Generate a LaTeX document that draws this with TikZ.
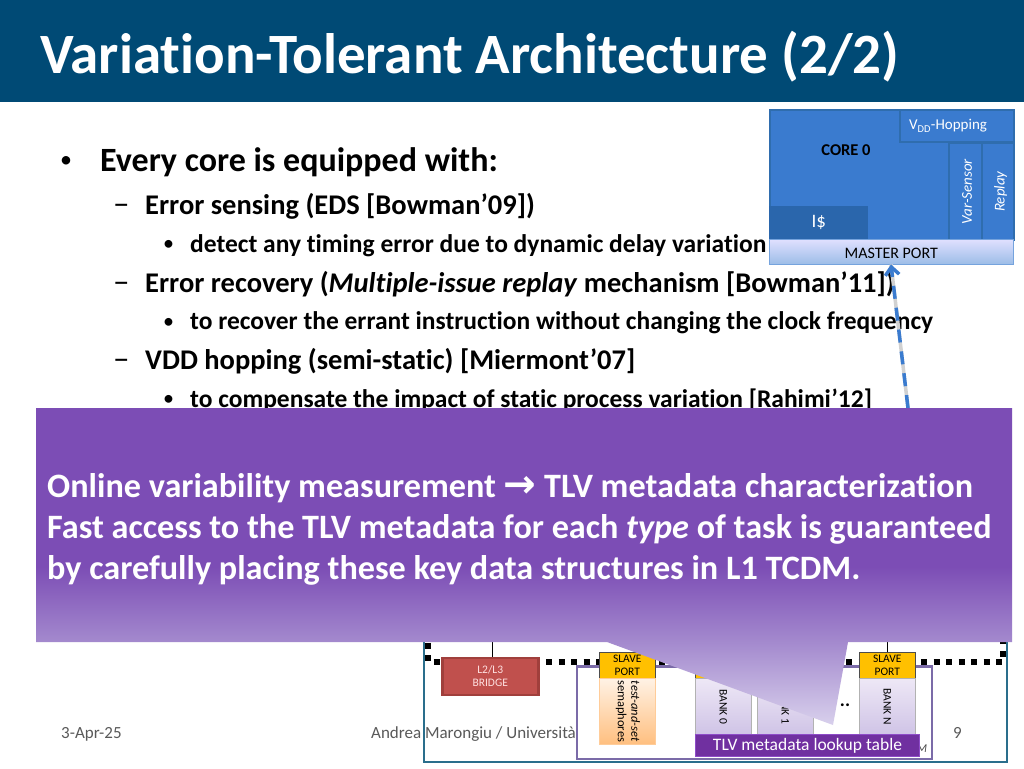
\documentclass[tikz,border=0pt]{standalone}
\usepackage{fontspec}
\setmainfont[Ligatures=CommonOff]{Carlito}
\newfontfamily\arrowfont{DejaVu Sans}
\usetikzlibrary{arrows.meta}
\definecolor{titlebar}{HTML}{004A75}
\definecolor{corefill}{HTML}{3A7BCF}
\definecolor{coreline}{HTML}{2F6DAE}
\definecolor{cachefill}{HTML}{2A66AC}
\definecolor{calloutfill}{HTML}{7C4DB5}
\definecolor{calloutmid}{HTML}{A48ACE}
\definecolor{calloutfade}{HTML}{D8D0EC}
\definecolor{footgrey}{HTML}{595959}
\definecolor{portfill}{HTML}{FFC000}
\definecolor{bridgefill}{HTML}{C0504D}
\definecolor{bridgeline}{HTML}{A03F3C}
\definecolor{framefill}{HTML}{7B6BA8}
\definecolor{outerline}{HTML}{2A6E8C}
\definecolor{bankbar}{HTML}{EEE8F6}
\definecolor{banklow}{HTML}{CFC3E6}
\definecolor{lookupfill}{HTML}{7030A0}
\definecolor{lookupline}{HTML}{8E4CC8}
\pgfdeclareverticalshading{calloutshade}{100bp}{color(0bp)=(calloutfade); color(25bp)=(calloutfade); color(38bp)=(calloutmid); color(50bp)=(calloutfill); color(100bp)=(calloutfill)}
\tikzset{
  lvlone/.style={anchor=base west,inner sep=0pt,font=\bfseries\fontsize{34}{38}\selectfont},
  lvltwo/.style={anchor=base west,inner sep=0pt,font=\bfseries\fontsize{28.5}{32}\selectfont},
  lvlthree/.style={anchor=base west,inner sep=0pt,font=\bfseries\fontsize{25.5}{28}\selectfont},
  bulone/.style={anchor=base west,inner sep=0pt,font=\fontsize{24}{24}\selectfont},
  bulthree/.style={anchor=base west,inner sep=0pt,font=\fontsize{22}{22}\selectfont},
  dashmark/.style={anchor=base west,inner sep=0pt,font=\fontsize{33}{33}\selectfont},
  callouttext/.style={anchor=base west,inner sep=0pt,text=white,font=\bfseries\fontsize{34.2}{38}\selectfont},
  foot/.style={anchor=base west,inner sep=0pt,text=footgrey,font=\fontsize{17}{19}\selectfont},
  corepart/.style={draw=coreline,line width=2pt,fill=corefill,text=white,inner sep=0pt},
  slaveport/.style={draw=black!70,fill=portfill,minimum width=56pt,minimum height=26pt,inner sep=0pt,align=center,font=\fontsize{11.5}{13}\selectfont},
  bankbox/.style={draw=black!30,top color=bankbar,bottom color=banklow,minimum width=56pt,minimum height=57pt,inner sep=0pt,font=\fontsize{11.5}{13}\selectfont},
}
\begin{document}
\begin{tikzpicture}[x=1pt,y=-1pt]
\useasboundingbox (0,0) rectangle (1024,768);
\fill[white] (0,0) rectangle (1024,768);
% Title
\fill[titlebar] (0,0) rectangle (1024,102);
\node[anchor=base west,text=white,font=\bfseries\fontsize{57}{60}\selectfont,inner sep=0pt] (title) at (40,73) {Variation-Tolerant Architecture (2/2)};
% Bullets
\node[bulone] (markone) at (60,167) {•};
\node[lvlone] (eqp) at (100,171) {Every core is equipped with:};
\node[dashmark] (dashone) at (113,214) {–};
\node[lvltwo] (sense) at (145,214) {Error sensing (EDS [Bowman’09])};
\node[bulthree] (marktwo) at (163,250) {•};
\node[lvlthree] (detect) at (190,252) {detect any timing error due to dynamic delay variation};
\node[dashmark] (dashtwo) at (113,292) {–};
\node[lvltwo] (recover) at (145,292) {Error recovery (\textit{Multiple-issue replay} mechanism [Bowman’11])};
\node[bulthree] (markthree) at (163,328) {•};
\node[lvlthree] (errant) at (190,329) {to recover the errant instruction without changing the clock frequency};
\node[dashmark] (dashthree) at (113,369) {–};
\node[lvltwo] (hopping) at (145,369) {VDD hopping (semi-static) [Miermont’07]};
\node[bulthree] (markfour) at (163,405) {•};
\node[lvlthree] (static) at (190,407) {to compensate the impact of static process variation [Rahimi’12]};
% Core
\node[corepart,minimum width=244pt,minimum height=130pt,anchor=north west] (core) at (769,109) {};
\node[anchor=center,font=\bfseries\fontsize{16.5}{19}\selectfont] (corename) at (846,150) {CORE 0};
\node[corepart,minimum width=114pt,minimum height=32pt,anchor=north west,font=\fontsize{15}{18}\selectfont] (vddbox) at (899,109) {\hspace*{-18pt}V\textsubscript{DD}-Hopping};
\node[corepart,minimum width=33pt,minimum height=97pt,anchor=north west] (varbox) at (948,142) {\hspace*{3pt}\rotatebox{90}{\fontsize{15}{18}\selectfont\textit{Var-Sensor}}};
\node[corepart,minimum width=32pt,minimum height=97pt,anchor=north west] (replaybox) at (981,142) {\hspace*{5pt}\rotatebox{90}{\fontsize{15}{18}\selectfont\textit{Replay}}};
\node[fill=cachefill,text=white,minimum width=99pt,minimum height=33pt,anchor=north west,inner sep=0pt,font=\fontsize{19}{22}\selectfont] (icache) at (769,205.5) {I\$};
\node[draw=corefill!70,top color=blue!12!white,bottom color=corefill!50!white,minimum width=244pt,minimum height=25pt,anchor=north west,inner sep=0pt,font=\fontsize{16}{18}\selectfont] (master) at (769,239) {\raisebox{-7pt}[0pt][0pt]{MASTER PORT}};
% Link
\coordinate (linkfoot) at (908,408);
\draw[line width=3.5pt,black!18] (linkfoot) -- (master.south -| 891,264);
\draw[line width=3.5pt,corefill,dash pattern=on 13pt off 9pt,-{Straight Barb[length=8pt,width=14pt]}] (linkfoot) -- (master.south -| 891,264);
% Cluster
\draw[draw=outerline,line width=1.5pt] (424,630) rectangle (1007,762);
\draw[line width=5.5pt,dash pattern=on 6pt off 6.5pt] (428,630) -- (428,662) -- (1003,662) -- (1003,630);
\node[draw=bridgeline,line width=2.5pt,fill=bridgefill,text=white!88!red,minimum width=96pt,minimum height=37pt,anchor=north west,inner sep=0pt,align=center,font=\fontsize{11.5}{13}\selectfont] (bridge) at (441,656.5) {L2/L3\\BRIDGE};
\coordinate (bridgeup) at (492,630);
\draw (bridge.north -| bridgeup) -- (bridgeup);
% Footer
\node[foot] (date) at (61,738) {3-Apr-25};
\node[foot] (speaker) at (371,738) {Andrea Marongiu / Università};
\node[foot] (pagenum) at (953,738) {9};
% L1
\draw[draw=framefill,line width=2.5pt,fill=white] (577,666.5) rectangle (932,759);
\node[slaveport,anchor=north west] (semport) at (599,652) {SLAVE\\PORT};
\node[draw=orange!40,top color=orange!10,bottom color=orange!50,minimum width=56pt,minimum height=66pt,inner sep=0pt,anchor=north west,font=\fontsize{12.5}{13.5}\selectfont] (sembox) at (599,678) {\rotatebox{-90}{\begin{tabular}{@{}c@{}}\textit{test-and-set}\\semaphores\end{tabular}}};
\node[slaveport,anchor=north west] (portzero) at (695,652) {SLAVE\\PORT};
\node[bankbox,anchor=north west] (bankzero) at (695,678) {\rotatebox{-90}{BANK 0}};
\node[slaveport,anchor=north west] (portone) at (757,652) {SLAVE\\PORT};
\node[bankbox,anchor=north west] (bankone) at (757,678) {\rotatebox{-90}{BANK 1}};
\node[slaveport,anchor=north west] (portn) at (859,652) {SLAVE\\PORT};
\node[bankbox,anchor=north west] (bankn) at (859,678) {\rotatebox{-90}{BANK N}};
\coordinate (portnup) at (887,630);
\draw (portn.north -| portnup) -- (portnup);
\node[font=\bfseries\fontsize{19}{19}\selectfont] (moredots) at (845,705) {..};
\node[font=\itshape\fontsize{12}{12}\selectfont,text=black!70] (tcdmtail) at (922,749) {M};
\node[draw=lookupline,fill=lookupfill,text=white,minimum width=224pt,minimum height=22pt,anchor=north west,inner sep=0pt,line width=1pt,font=\fontsize{17.5}{20}\selectfont] (lookup) at (695,734) {TLV metadata lookup table};
% Callout
\shade[shading=calloutshade] (36,408) -- (1012,408) -- (1012,642) -- (848,642) -- (833,725) -- (607,642) -- (36,642) -- cycle;
\node[callouttext] (calloutone) at (47,497) {Online variability measurement {\arrowfont\bfseries\fontsize{39}{39}\selectfont→} TLV metadata characterization};
\node[callouttext] (callouttwo) at (47,538) {Fast access to the TLV metadata for each \textit{type} of task is guaranteed};
\node[callouttext] (calloutthree) at (47,579) {by carefully placing these key data structures in L1 TCDM.};
\end{tikzpicture}
\end{document}
